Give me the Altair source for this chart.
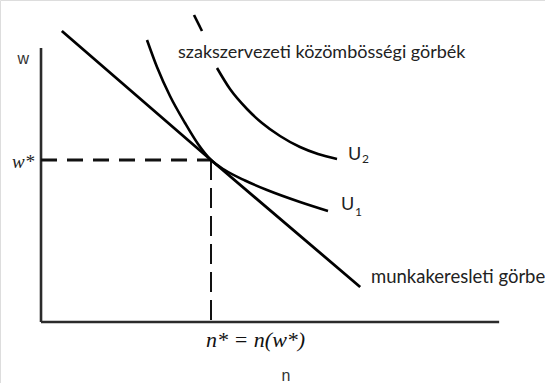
import altair as alt
import pandas as pd

# Equilibrium wage and employment
n_star, w_star = 4.0, 5.0

# Labour demand curve (straight line through the equilibrium)
demand_n = [0.49, 4.0, 7.51]
demand_w = [8.98, 5.0, 1.08]

# Union indifference curve U1 (tangent to demand at the equilibrium)
u1_n = [2.494, 2.729, 3.035, 3.388, 3.694, 4.000, 4.306, 4.800, 5.318, 6.094, 6.753]
u1_w = [8.704, 7.870, 6.975, 6.142, 5.494, 5.000, 4.707, 4.367, 4.074, 3.704, 3.426]

# Higher indifference curve U2; it is interrupted where the caption crosses it
u2_n = [3.600, 3.788, 4.141, 4.447, 4.847, 5.200, 5.624, 6.094, 6.518, 6.965]
u2_w = [9.475, 8.981, 7.840, 7.191, 6.574, 6.142, 5.741, 5.401, 5.185, 5.031]
u2_part = [0, 0, 1, 1, 1, 1, 1, 1, 1, 1]

# Extent of the drawn axes
n_axis_end = 10.78
w_axis_end = 8.46

W, H = 545, 383
xs = alt.Scale(domain=[-0.965, 11.859], nice=False, zero=False)
ys = alt.Scale(domain=[-1.883, 9.938], nice=False, zero=False)


def X(field):
    return alt.X(field, type="quantitative", scale=xs, axis=None)


def Y(field):
    return alt.Y(field, type="quantitative", scale=ys, axis=None)


axes_df = pd.DataFrame({
    "x": [0, 0], "y": [0, 0],
    "x2": [n_axis_end, 0], "y2": [0, w_axis_end],
})
axes = alt.Chart(axes_df).mark_rule(color="#2b2b2b", strokeWidth=2.6).encode(
    x=X("x"), y=Y("y"), x2="x2", y2="y2"
)

h_guide = alt.Chart(pd.DataFrame({"x": [0], "x2": [n_star], "y": [w_star]})).mark_rule(
    color="#111", strokeWidth=3, strokeDash=[16, 10]
).encode(x=X("x"), x2="x2", y=Y("y"))

v_guide = alt.Chart(pd.DataFrame({"x": [n_star], "y": [w_star], "y2": [0]})).mark_rule(
    color="#111", strokeWidth=2, strokeDash=[20, 8]
).encode(x=X("x"), y=Y("y"), y2="y2")

demand = alt.Chart(pd.DataFrame({"n": demand_n, "w": demand_w})).mark_line(
    color="#000", strokeWidth=2.8
).encode(x=X("n"), y=Y("w"), order="n:Q")

u1 = alt.Chart(pd.DataFrame({"n": u1_n, "w": u1_w})).mark_line(
    color="#000", strokeWidth=2.6, interpolate="monotone"
).encode(x=X("n"), y=Y("w"), order="n:Q")

u2 = alt.Chart(pd.DataFrame({"n": u2_n, "w": u2_w, "part": u2_part})).mark_line(
    color="#000", strokeWidth=2.6, interpolate="monotone"
).encode(x=X("n"), y=Y("w"), detail="part:N", order="n:Q")


def label(text, x, y, **style):
    df = pd.DataFrame({"x": [x], "y": [y], "t": [text]})
    return alt.Chart(df).mark_text(**style).encode(x=X("x"), y=Y("y"), text="t:N")


sans = dict(font="Liberation Sans", color="#333", fontSize=16, baseline="alphabetic")
cal = dict(font="Lato", color="#222", baseline="alphabetic", align="left")

texts = [
    label("w", -0.42, 7.96, align="center", **sans),
    label("n", 5.765, -1.82, align="center", **sans),
    label("w*", -0.16, w_star, font="Liberation Serif", fontStyle="italic",
          fontSize=19, color="#222", align="right", baseline="middle", dy=2),
    label("n* = n(w*)", n_star, 0, font="Liberation Serif", fontStyle="italic",
          fontSize=22, color="#111", align="left", baseline="alphabetic", dx=-5, dy=25),
    label("szakszervezeti közömbösségi görbék", 3.224, 8.148, fontSize=18, **cal),
    label("munkakeresleti görbe", 7.765, 1.204, fontSize=18.5, **cal),
    label("U", 7.224, 5.0, fontSize=18, **cal),
    label("2", 7.224, 4.907, fontSize=12, dx=14, **cal),
    label("U", 7.059, 3.457, fontSize=18, **cal),
    label("1", 7.059, 3.272, fontSize=12, dx=14, **cal),
]

chart = alt.layer(axes, h_guide, v_guide, demand, u1, u2, *texts).properties(
    width=W, height=H, padding=0, autosize=alt.AutoSizeParams(type="none")
).configure_view(stroke=None).configure(background="white")

chart.save("out.html", embed_options={"renderer": "svg", "actions": False})
